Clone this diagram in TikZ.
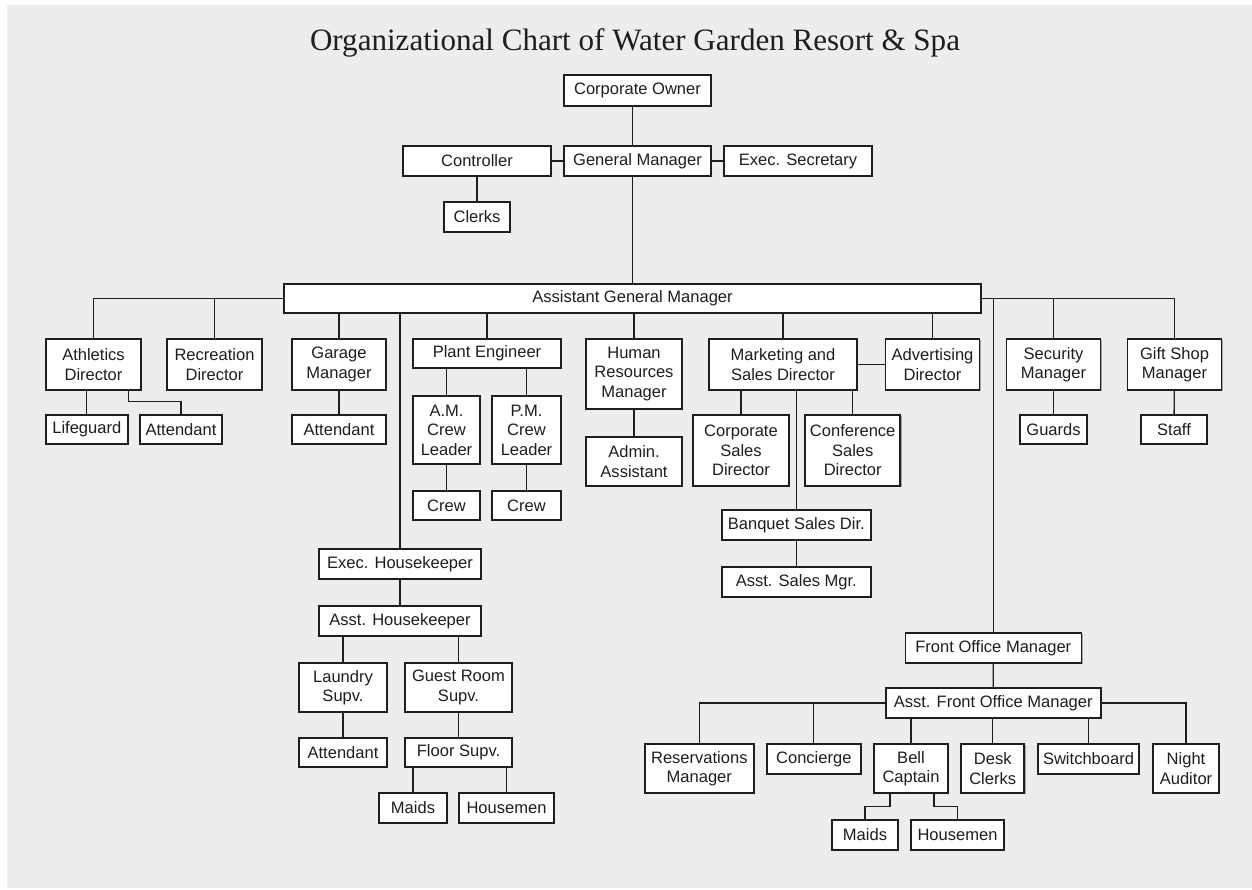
\documentclass[tikz,border=0pt]{standalone}
\usepackage{fontspec}
\setmainfont{Liberation Sans}
\newfontfamily\titlefont{Liberation Serif}
\usetikzlibrary{shadows}
\definecolor{bggray}{HTML}{EDEDED}
\definecolor{ink}{HTML}{1E1E1E}

\begin{document}
\begin{tikzpicture}[x=0.75pt,y=0.75pt,yscale=-1,xscale=1,
  box/.style={draw=ink, fill=white, line width=1.2pt, align=center, inner sep=0pt, text=ink,
    font=\fontsize{12.4}{14.6}\selectfont,
    drop shadow={shadow xshift=1.1pt, shadow yshift=-1.1pt, fill=black, opacity=0.3}},
  px/.style 2 args={minimum width=#1*0.75pt, minimum height=#2*0.75pt},
  link/.style={draw=ink, line width=1pt}]

%background
\fill[white] (0,0) rectangle (1252,889);
\fill[bggray] (7,5) rectangle (1252,888);
\useasboundingbox (0,0) rectangle (1252,889);

% Title
\node[font=\titlefont\fontsize{23.3}{27}\selectfont, text=ink] (title) at (635,43) {Organizational Chart of Water Garden Resort \& Spa};

% Top
\node[box, px={147}{31}] (owner) at (637.5,90.5) {Corporate Owner};
\node[box, px={147}{30}] (gm) at (637.5,161) {General Manager};
\node[box, px={148}{30}] (ctrl) at (477,161) {Controller};
\node[box, px={148}{30}] (secy) at (798,161) {Exec. Secretary};
\node[box, px={66}{30}] (clerks) at (477,217) {Clerks};
\node[box, px={697}{29}] (agm) at (632.5,298.5) {Assistant General Manager};

% Directors and managers
\node[box, px={95}{51}] (athl) at (93.5,364.5) {Athletics\\Director};
\node[box, px={95}{51}] (recr) at (214.5,364.5) {Recreation\\Director};
\node[box, px={94}{51}] (garage) at (339,364.5) {Garage\\Manager};
\node[box, px={148}{29}] (plant) at (487,353.5) {Plant Engineer};
\node[box, px={96}{70}] (hr) at (634,374) {Human\\Resources\\Manager};
\node[box, px={148}{51}] (mkt) at (783,364.5) {Marketing and\\Sales Director};
\node[box, px={94}{51}] (adv) at (932.5,364.5) {Advertising\\Director};
\node[box, px={94}{51}] (secm) at (1053.5,364.5) {Security\\Manager};
\node[box, px={94}{51}] (gift) at (1174.5,364.5) {Gift Shop\\Manager};

% Staff under them
\node[box, px={82}{29}] (life) at (86.8,429.5) {Lifeguard};
\node[box, px={82}{29}] (att1) at (181,429.5) {Attendant};
\node[box, px={94}{29}] (garatt) at (339,429.5) {Attendant};
\node[box, px={67}{68}] (amlead) at (446.5,430) {A.M.\\Crew\\Leader};
\node[box, px={69}{68}] (pmlead) at (526.5,430) {P.M.\\Crew\\Leader};
\node[box, px={67}{29}] (crew1) at (446.5,505.5) {Crew};
\node[box, px={69}{29}] (crew2) at (526.5,505.5) {Crew};
\node[box, px={96}{49}] (admin) at (634,461.5) {Admin.\\Assistant};
\node[box, px={96}{71}] (corp) at (741,450.5) {Corporate\\Sales\\Director};
\node[box, px={95}{71}] (conf) at (852.7,450.5) {Conference\\Sales\\Director};
\node[box, px={149}{30}] (banq) at (796.3,525) {Banquet Sales Dir.};
\node[box, px={149}{30}] (asstsales) at (796.3,582) {Asst. Sales Mgr.};
\node[box, px={67}{29}] (guards) at (1053.5,429.5) {Guards};
\node[box, px={66}{29}] (staff) at (1174,429.5) {Staff};

% Housekeeping
\node[box, px={162}{30}] (exechk) at (400,564) {Exec. Housekeeper};
\node[box, px={162}{30}] (assthk) at (400,621) {Asst. Housekeeper};
\node[box, px={88}{49}] (laundry) at (343,687.5) {Laundry\\Supv.};
\node[box, px={107}{49}] (guest) at (458.5,687.5) {Guest Room\\Supv.};
\node[box, px={88}{29}] (att2) at (343,752.5) {Attendant};
\node[box, px={107}{29}] (floor) at (458.5,752.5) {Floor Supv.};
\node[box, px={68}{30}] (maids1) at (413,808) {Maids};
\node[box, px={95}{30}] (housemen1) at (506.5,808) {Housemen};

% Front office
\node[box, px={176}{30}] (fom) at (993.3,648) {Front Office Manager};
\node[box, px={215}{30}] (afom) at (993.2,703) {Asst. Front Office Manager};
\node[box, px={109}{49}] (resv) at (699.3,768.5) {Reservations\\Manager};
\node[box, px={94}{30}] (conc) at (813.8,759) {Concierge};
\node[box, px={74}{49}] (bell) at (911,768.5) {Bell\\Captain};
\node[box, px={63}{49}] (desk) at (992.7,768.5) {Desk\\Clerks};
\node[box, px={101}{30}] (switch) at (1088.5,759) {Switchboard};
\node[box, px={66}{49}] (night) at (1186,768.5) {Night\\Auditor};
\node[box, px={66}{30}] (maids2) at (865,835) {Maids};
\node[box, px={93}{30}] (housemen2) at (957.5,835) {Housemen};

\coordinate (athlk) at (128.7,401.7);
\coordinate (bellL) at (890,806.7);
\coordinate (bellR) at (934,806.7);

% Lines top
\draw[link] (owner.south -| agm) -- (gm.north -| agm);
\draw[link] (gm.south -| agm) -- (agm.north);
\draw[link] (ctrl) -- (gm);
\draw[link] (gm) -- (secy);
\draw[link] (ctrl) -- (clerks);

% Lines from assistant general manager
\draw[link] (agm.west) -| (athl.north);
\draw[link] (recr.north) -- (recr.north |- agm);
\draw[link] (garage.north) -- (garage.north |- agm.south);
\draw[link] (exechk.north) -- (exechk.north |- agm.south);
\draw[link] (plant.north) -- (plant.north |- agm.south);
\draw[link] (hr.north) -- (hr.north |- agm.south);
\draw[link] (mkt.north) -- (mkt.north |- agm.south);
\draw[link] (adv.north) -- (adv.north |- agm.south);
\draw[link] (mkt) -- (adv);
\draw[link] (agm.east) -| (gift.north);
\draw[link] (secm.north) -- (secm.north |- agm);
\draw[link] (fom.north) -- (fom.north |- agm);

% Lines below directors
\draw[link] (life.north) -- (life.north |- athl.south);
\draw[link] (athl.south -| athlk) -- (athlk) -| (att1.north);
\draw[link] (garage) -- (garatt);
\draw[link] (amlead.north) -- (amlead.north |- plant.south);
\draw[link] (pmlead.north) -- (pmlead.north |- plant.south);
\draw[link] (amlead) -- (crew1);
\draw[link] (pmlead) -- (crew2);
\draw[link] (hr) -- (admin);
\draw[link] (corp.north) -- (corp.north |- mkt.south);
\draw[link] (conf.north) -- (conf.north |- mkt.south);
\draw[link] (banq.north) -- (banq.north |- mkt.south);
\draw[link] (banq) -- (asstsales);
\draw[link] (secm) -- (guards);
\draw[link] (gift) -- (staff);

% Lines housekeeping
\draw[link] (exechk) -- (assthk);
\draw[link] (laundry.north) -- (laundry.north |- assthk.south);
\draw[link] (guest.north) -- (guest.north |- assthk.south);
\draw[link] (laundry) -- (att2);
\draw[link] (guest) -- (floor);
\draw[link] (maids1.north) -- (maids1.north |- floor.south);
\draw[link] (housemen1.north) -- (housemen1.north |- floor.south);

% Lines front office
\draw[link] (fom) -- (afom);
\draw[link] (afom.west) -| (resv.north);
\draw[link] (conc.north) -- (conc.north |- afom);
\draw[link] (afom.east) -| (night.north);
\draw[link] (bell.north) -- (bell.north |- afom.south);
\draw[link] (desk.north) -- (desk.north |- afom.south);
\draw[link] (switch.north) -- (switch.north |- afom.south);
\draw[link] (bell.south -| bellL) -- (bellL) -| (maids2.north);
\draw[link] (bell.south -| bellR) -- (bellR) -| (housemen2.north);

\end{tikzpicture}
\end{document}
